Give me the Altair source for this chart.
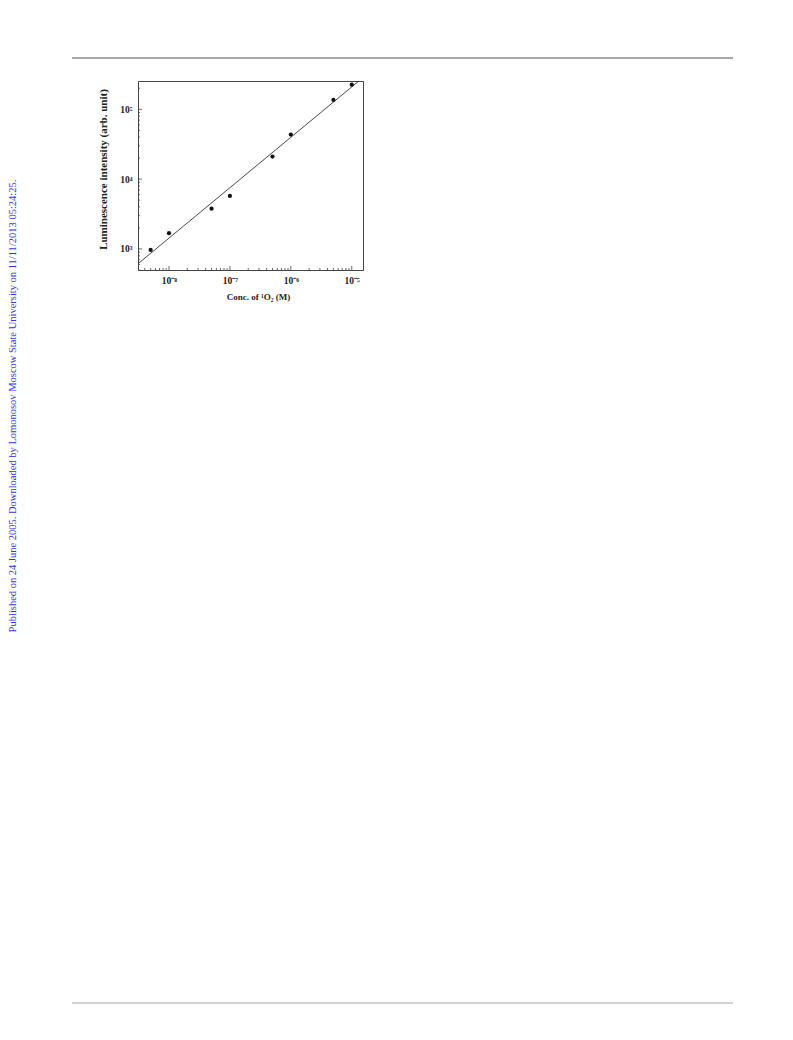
import altair as alt
import pandas as pd

# ---- data ----
conc = [5e-9, 1e-8, 5e-8, 1e-7, 5e-7, 1e-6, 5e-6, 1e-5]
intensity = [970, 1680, 3780, 5740, 21000, 43500, 136000, 225000]

fit_conc = [3.07e-9, 1.33e-5]
fit_intensity = [610, 257000]

x_domain = [3.1e-9, 1.53e-5]
y_domain = [500, 254000]

x_major = [1e-8, 1e-7, 1e-6, 1e-5]
x_major_labels = ["10\u207b\u2078", "10\u207b\u2077", "10\u207b\u2076", "10\u207b\u2075"]
y_major = [1e3, 1e4, 1e5]
y_major_labels = ["10\u00b3", "10\u2074", "10\u2075"]

side_note = "Published on 24 June 2005. Downloaded by Lomonosov Moscow State University on 11/11/2013 05:24:25."

W, H = 225, 189
FONT = "Liberation Serif"

def minors(lo, hi):
    out = []
    e = -12
    while e < 8:
        for m in range(2, 10):
            v = m * 10.0 ** e
            if lo <= v <= hi:
                out.append(v)
        e += 1
    return out

x_minor = minors(*x_domain)
y_minor = minors(*y_domain)

pts = pd.DataFrame({"conc": conc, "intensity": intensity})
fit = pd.DataFrame({"conc": fit_conc, "intensity": fit_intensity})

xs = alt.Scale(type="log", domain=x_domain, nice=False)
ys = alt.Scale(type="log", domain=y_domain, nice=False)

x_expr = "[" + ",".join("'%s'" % s for s in x_major_labels) + "][round(log(datum.value)/LN10)+8]"
y_expr = "[" + ",".join("'%s'" % s for s in y_major_labels) + "][round(log(datum.value)/LN10)-3]"

x_axis = alt.Axis(values=x_major, labelExpr=x_expr, ticks=False, domain=False, grid=False,
                  labelFont=FONT, labelFontWeight="bold", labelFontSize=9.5, labelColor="#222",
                  labelPadding=5, title="Conc. of \u00b9O\u2082 (M)", titleFont=FONT,
                  titleFontWeight="bold", titleFontSize=9, titleColor="#222", titlePadding=8,
                  titleX=120)
y_axis = alt.Axis(values=y_major, labelExpr=y_expr, ticks=False, domain=False, grid=False,
                  labelFont=FONT, labelFontWeight="bold", labelFontSize=9.5, labelColor="#222",
                  labelPadding=6, title="Luminescence intensity (arb. unit)", titleFont=FONT,
                  titleFontWeight="bold", titleFontSize=11, titleColor="#222", titlePadding=11,
                  titleY=88)

points = alt.Chart(pts).mark_circle(size=18, color="#111", opacity=1).encode(
    x=alt.X("conc:Q", scale=xs, axis=x_axis),
    y=alt.Y("intensity:Q", scale=ys, axis=y_axis),
)

line = alt.Chart(fit).mark_line(color="#333", strokeWidth=0.9, clip=True).encode(
    x=alt.X("conc:Q", scale=xs),
    y=alt.Y("intensity:Q", scale=ys),
)

def xticks(vals, length):
    df = pd.DataFrame({"conc": vals})
    return alt.Chart(df).mark_rule(color="#444", strokeWidth=0.8).encode(
        x=alt.X("conc:Q", scale=xs), y=alt.value(H), y2=alt.value(H - length))

def yticks(vals, length):
    df = pd.DataFrame({"intensity": vals})
    return alt.Chart(df).mark_rule(color="#444", strokeWidth=0.8).encode(
        y=alt.Y("intensity:Q", scale=ys), x=alt.value(0), x2=alt.value(length))

deco = pd.DataFrame({"k": [0]})
top_rule = alt.Chart(deco).mark_rule(color="#8a8a8a", strokeWidth=1.5).encode(
    x=alt.value(72 - 138), x2=alt.value(733 - 138), y=alt.value(58 - 81))
bottom_rule = alt.Chart(deco).mark_rule(color="#c4c4c4", strokeWidth=1.5).encode(
    x=alt.value(72 - 138), x2=alt.value(733 - 138), y=alt.value(1003 - 81))
side = alt.Chart(pd.DataFrame({"t": [side_note]})).mark_text(
    angle=270, align="center", baseline="middle", font=FONT, fontSize=10.5, color="#3333e6"
).encode(text="t:N", x=alt.value(13 - 138), y=alt.value(406 - 81))

chart = alt.layer(
    top_rule, bottom_rule, side,
    xticks(x_major, 4), xticks(x_minor, 2), yticks(y_major, 4), yticks(y_minor, 2),
    line, points,
).properties(
    width=W, height=H,
    autosize=alt.AutoSizeParams(type="none"),
    padding={"left": 130, "top": 73, "right": 400, "bottom": 740},
).configure(background="white").configure_view(stroke="#444", strokeWidth=1)

chart.save("out.html", embed_options={"renderer": "svg", "actions": False})
